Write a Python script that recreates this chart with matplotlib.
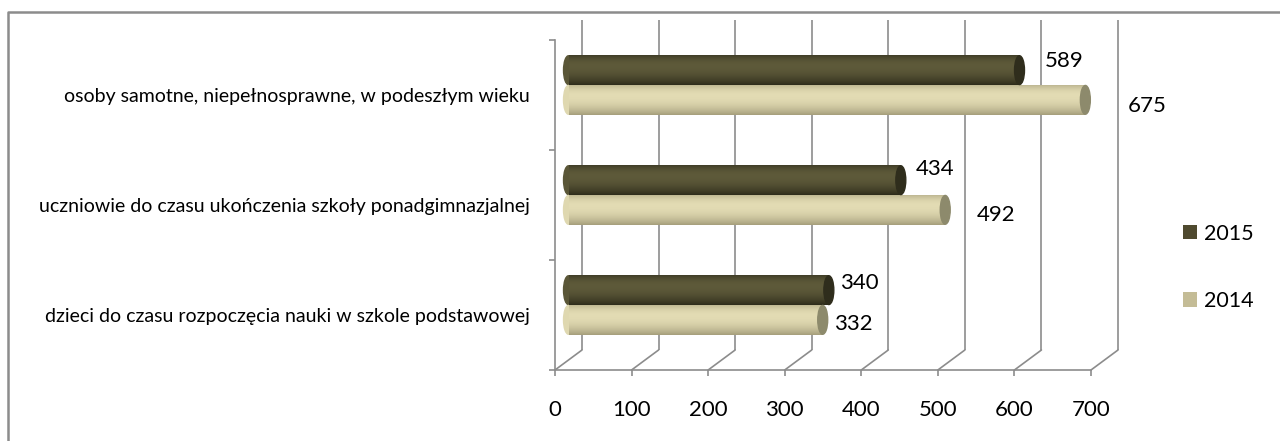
import numpy as np
import matplotlib
matplotlib.use("Agg")
import matplotlib.pyplot as plt
from matplotlib import transforms
from matplotlib.patches import Ellipse, ConnectionPatch, Patch
from matplotlib.lines import Line2D
from matplotlib.colors import to_rgb

# data, categories listed bottom to top
categories = ["dzieci do czasu rozpoczęcia nauki w szkole podstawowej",
              "uczniowie do czasu ukończenia szkoły ponadgimnazjalnej",
              "osoby samotne, niepełnosprawne, w podeszłym wieku"]
values_2015 = [340, 434, 589]
values_2014 = [332, 492, 675]
series_names = ["2015", "2014"]
x_ticks = [0, 100, 200, 300, 400, 500, 600, 700]

# label offsets in pixels from the bar end (excel puts them a bit oddly)
offs_2015 = [(11, 7), (15, 11), (25, 9)]
offs_2014 = [(11, -4), (32, -5), (42, -6)]

plt.rcParams['font.family'] = ['Lato', 'DejaVu Sans']

GRID = '#8c8c8c'
W, H = 1280, 441

fig = plt.figure(figsize=(W / 100, H / 100), dpi=100)
ax = fig.add_axes([555 / W, (H - 370) / H, 536 / W, 330 / H])
ax.set_xlim(0, 700)
ax.set_ylim(-0.5, 2.5)
ax.patch.set_visible(False)

# oblique depth of the 3d box
back = transforms.offset_copy(ax.transData, fig=fig, x=27, y=20, units='dots')
mid = transforms.offset_copy(ax.transData, fig=fig, x=13.5, y=10, units='dots')

# back wall and floor
ax.vlines(x_ticks, -0.5, 2.5, transform=back, colors=GRID, lw=1.2, clip_on=False, zorder=1)
for v in x_ticks:
    con = ConnectionPatch((v, -0.5), (v, -0.5), coordsA=ax.transData, coordsB=back,
                          color=GRID, lw=1.2, clip_on=False, zorder=1)
    ax.add_artist(con)

for s in ['top', 'right']:
    ax.spines[s].set_visible(False)
for s in ['bottom', 'left']:
    ax.spines[s].set_color(GRID)
    ax.spines[s].set_linewidth(1.2)

ax.set_xticks(x_ticks)
ax.set_xticklabels([str(t) for t in x_ticks], fontsize=16)
ax.tick_params(axis='x', length=4.5, width=1.2, color=GRID, pad=17)
ax.set_yticks([-0.5, 0.5, 1.5, 2.5])
ax.set_yticklabels([])
ax.tick_params(axis='y', which='major', length=4.5, width=1.2, color=GRID)
ax.set_yticks([0, 1, 2], minor=True)
ax.set_yticklabels(categories, minor=True, fontsize=14)
ax.tick_params(axis='y', which='minor', length=0, pad=18)


def shade(edge, hi, t):
    # cylinder-ish brightness profile, highlight a bit above centre
    if t < 0.35:
        k = 1 - 0.6 * ((0.35 - t) / 0.35) ** 2
    else:
        k = 1 - ((t - 0.35) / 0.65) ** 2
    e = np.array(to_rgb(edge))
    h = np.array(to_rgb(hi))
    return tuple(e + (h - e) * k)


def cylinder(y, v, edge, hi, cap, h=0.27, n=30):
    body = shade(edge, hi, 0.5)
    ax.add_patch(Ellipse((0, y), 13, h * 0.97, transform=mid, color=body,
                         clip_on=False, zorder=3))
    for i in range(n):
        t = (i + 0.5) / n
        ax.barh(y + h / 2 - t * h, v, height=h / n * 1.2, color=shade(edge, hi, t),
                transform=mid, clip_on=False, zorder=4, linewidth=0)
    ax.add_patch(Ellipse((v, y), 13, h * 0.97, transform=mid, color=cap,
                         clip_on=False, zorder=5))


bh = 0.27
for i in range(len(categories)):
    y15 = i + bh / 2
    y14 = i - bh / 2
    cylinder(y15, values_2015[i], '#2c2a19', '#5d5939', '#2f2d1c')
    cylinder(y14, values_2014[i], '#a49d7a', '#e2dbb3', '#8d8a6c')
    ax.annotate(str(values_2015[i]), (values_2015[i], y15), xycoords=mid,
                xytext=offs_2015[i], textcoords='offset pixels',
                ha='left', va='center', fontsize=16, annotation_clip=False)
    ax.annotate(str(values_2014[i]), (values_2014[i], y14), xycoords=mid,
                xytext=offs_2014[i], textcoords='offset pixels',
                ha='left', va='center', fontsize=16, annotation_clip=False)

handles = [Patch(facecolor='#4f4a2f'), Patch(facecolor='#c4bc96')]
fig.legend(handles, series_names, loc='center left',
           bbox_to_anchor=(1172 / W, 1 - 267.5 / H), frameon=False, fontsize=15.5,
           handlelength=0.65, handleheight=0.65, handletextpad=0.35,
           labelspacing=2.2, borderpad=0)

# outer chart frame (cut off at right and bottom)
fig.add_artist(Line2D([8 / W, 8 / W, 1], [0, 1 - 12 / H, 1 - 12 / H],
                      transform=fig.transFigure, color=GRID, lw=1.8))

fig.savefig('out.png', dpi=100, facecolor='white')
